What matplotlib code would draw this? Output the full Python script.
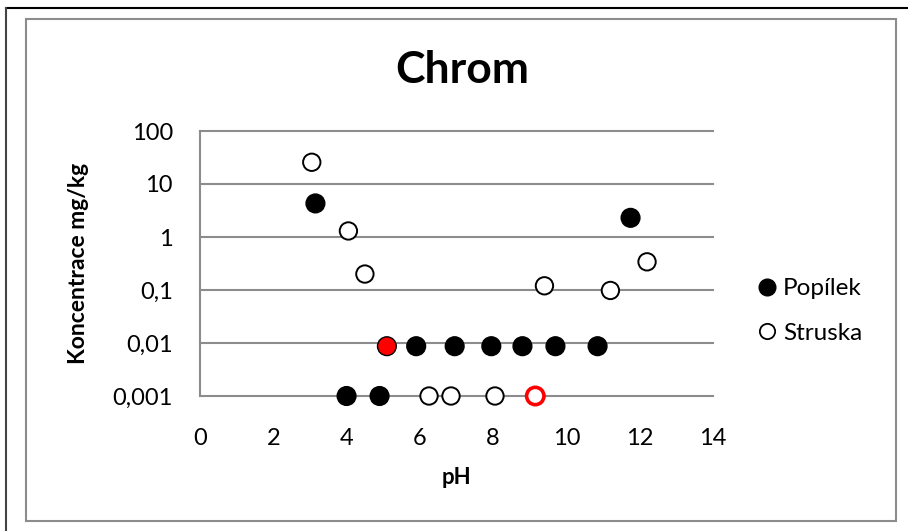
import matplotlib
matplotlib.use("Agg")
import matplotlib.pyplot as plt
from matplotlib.lines import Line2D
from matplotlib.patches import Rectangle

plt.rcParams["font.family"] = ["Lato", "DejaVu Sans"]

# data
popilek_ph = [3.15, 11.75, 5.1, 5.9, 6.95, 7.95, 8.8, 9.7, 10.85, 4.0, 4.9]
popilek_conc = [4.3, 2.3, 0.0087, 0.0087, 0.0087, 0.0087, 0.0087, 0.0087, 0.0087, 0.001, 0.001]
struska_ph = [3.05, 4.05, 4.5, 9.4, 11.2, 12.2, 6.25, 6.85, 8.05, 9.15]
struska_conc = [25.7, 1.3, 0.2, 0.12, 0.098, 0.34, 0.001, 0.001, 0.001, 0.001]
popilek_red = [2]   # index of the red filled point
struska_red = [9]   # index of the red ring

x_ticks = [0, 2, 4, 6, 8, 10, 12, 14]
y_ticks = [0.001, 0.01, 0.1, 1, 10, 100]
y_labels = ["0,001", "0,01", "0,1", "1", "10", "100"]

W, H = 908, 531
fig = plt.figure(figsize=(W / 100, H / 100), dpi=100)

# frames around the chart
fig.add_artist(Line2D([6 / W, 1], [1 - 8 / H, 1 - 8 / H], color="black", lw=1.5, transform=fig.transFigure))
fig.add_artist(Line2D([6 / W, 6 / W], [0, 1 - 8 / H], color="#444444", lw=1.5, transform=fig.transFigure))
fig.add_artist(Rectangle((26 / W, 1 - 521 / H), (896 - 26) / W, (521 - 19) / H,
                         fill=False, edgecolor="#8c8c8c", lw=1.5, transform=fig.transFigure))

ax = fig.add_axes([200 / W, 1 - 396 / H, (713 - 200) / W, (396 - 131) / H])
ax.set_yscale("log")
ax.set_xlim(0, 14)
ax.set_ylim(0.001, 100)

grid_c = "#8c8c8c"
for v in y_ticks:
    ax.axhline(v, color=grid_c, lw=1.5, zorder=1, clip_on=False)
for s in ["top", "right", "bottom"]:
    ax.spines[s].set_visible(False)
ax.spines["left"].set_color(grid_c)
ax.spines["left"].set_linewidth(1.5)

pop_face = ["red" if i in popilek_red else "black" for i in range(len(popilek_ph))]
str_edge = ["red" if i in struska_red else "black" for i in range(len(struska_ph))]
str_lw = [2.6 if i in struska_red else 1.4 for i in range(len(struska_ph))]

ax.scatter(popilek_ph, popilek_conc, s=13.5 ** 2, c=pop_face, edgecolors="black",
           linewidths=1.0, zorder=3, clip_on=False)
ax.scatter(struska_ph, struska_conc, s=12.5 ** 2, facecolors="white", edgecolors=str_edge,
           linewidths=str_lw, zorder=3, clip_on=False)

ax.set_xticks(x_ticks)
ax.set_xticklabels([str(v) for v in x_ticks])
ax.set_yticks(y_ticks)
ax.set_yticklabels(y_labels)
ax.minorticks_off()
ax.tick_params(length=0, labelsize=17, colors="black")
ax.tick_params(axis="x", pad=23)
ax.tick_params(axis="y", pad=19.5)

ax.set_xlabel("pH", fontsize=16, fontweight="bold", labelpad=13)
ax.set_ylabel("Koncentrace mg/kg", fontsize=16.5, fontweight="bold", labelpad=17)
fig.text(462 / W, 1 - 70 / H, "Chrom", fontsize=32, fontweight="bold", ha="center", va="center")

handles = [
    Line2D([], [], ls="none", marker="o", markersize=12, markerfacecolor="black", markeredgecolor="black"),
    Line2D([], [], ls="none", marker="o", markersize=11, markerfacecolor="white", markeredgecolor="black",
           markeredgewidth=1.3),
]
ax.legend(handles, ["Popílek", "Struska"], loc="center left", bbox_to_anchor=(733 / W, 1 - 311 / H),
          bbox_transform=fig.transFigure, frameon=False, fontsize=17.5, handlelength=1.0,
          handletextpad=0.15, labelspacing=0.95)

plt.savefig("out.png", dpi=100)
